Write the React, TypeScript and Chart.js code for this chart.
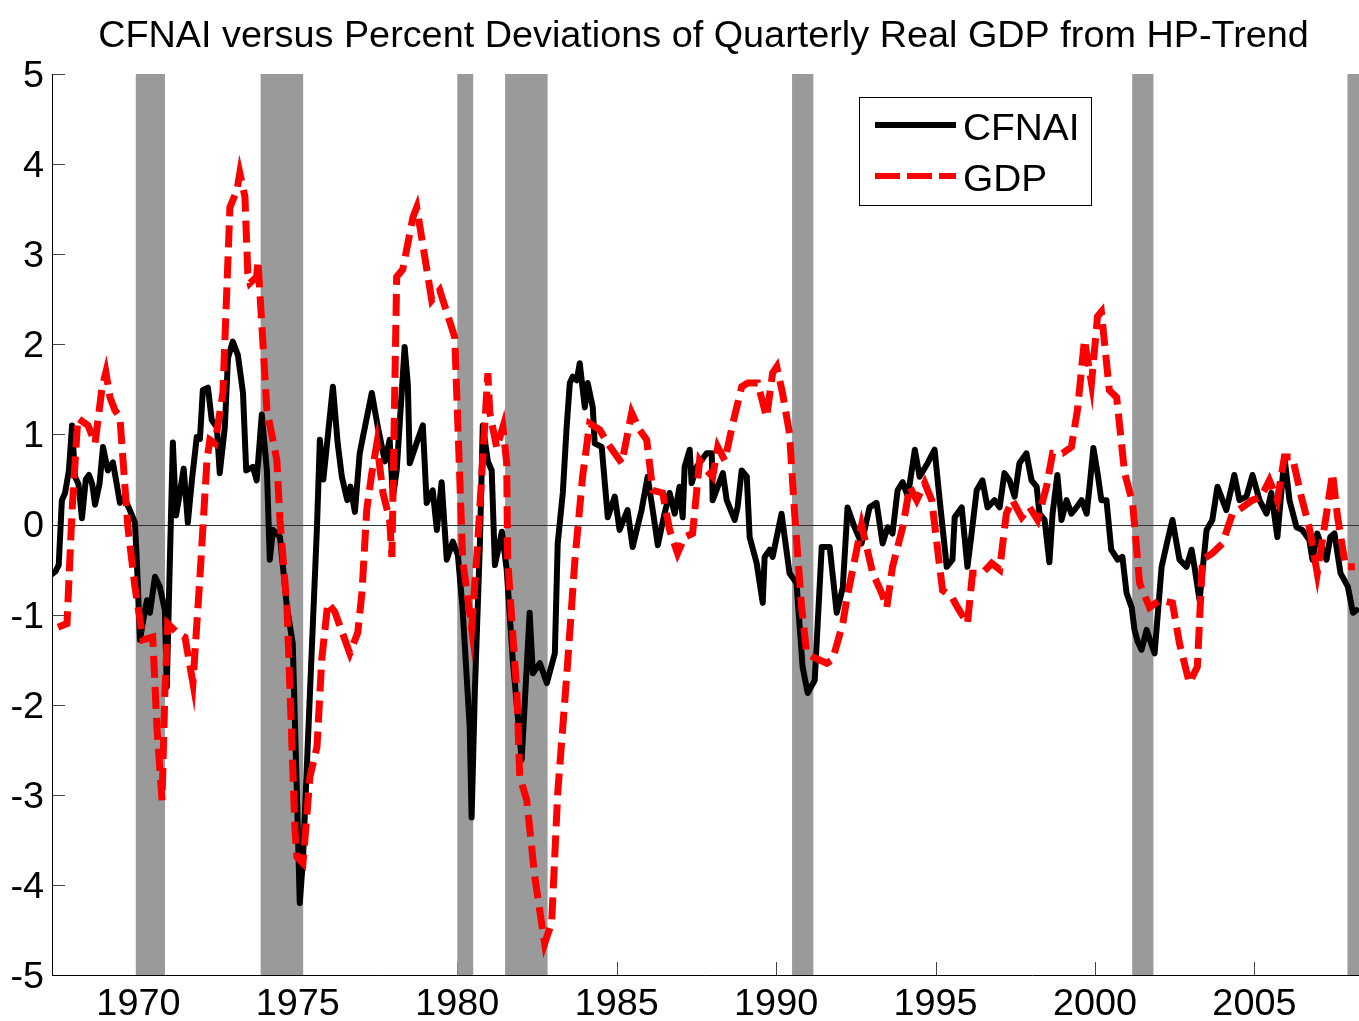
import React, { useEffect, useRef } from 'react';
import { Chart, registerables } from 'chart.js';

Chart.register(...registerables);

const titleText = 'CFNAI versus Percent Deviations of Quarterly Real GDP from HP-Trend';
const seriesNames = ['CFNAI', 'GDP'];
const xTickValues = [1970, 1975, 1980, 1985, 1990, 1995, 2000, 2005];
const yTickValues = [-5, -4, -3, -2, -1, 0, 1, 2, 3, 4, 5];

const recessionStarts = [1969.917, 1973.833, 1980.0, 1981.5, 1990.5, 2001.167, 2007.917];
const recessionEnds = [1970.833, 1975.167, 1980.5, 1982.833, 1991.167, 2001.833, 2009.0];

const cfnaiYears = [
  1967.29, 1967.40, 1967.50, 1967.60, 1967.70, 1967.82, 1967.92, 1968.01, 1968.12, 1968.23,
  1968.35, 1968.45, 1968.55, 1968.64, 1968.78, 1968.89, 1969.04, 1969.20, 1969.32, 1969.42,
  1969.55, 1969.73, 1969.89, 1969.95, 1970.05, 1970.18, 1970.27, 1970.36, 1970.52, 1970.67,
  1970.83, 1970.89, 1970.98, 1971.08, 1971.18, 1971.30, 1971.42, 1971.55, 1971.68, 1971.83,
  1971.93, 1972.02, 1972.18, 1972.30, 1972.46, 1972.55, 1972.71, 1972.81, 1972.96, 1973.12,
  1973.28, 1973.38, 1973.59, 1973.71, 1973.87, 1974.03, 1974.12, 1974.22, 1974.44, 1974.66,
  1974.84, 1974.97, 1975.06, 1975.16, 1975.38, 1975.60, 1975.69, 1975.80, 1976.10, 1976.25,
  1976.38, 1976.55, 1976.65, 1976.79, 1976.94, 1977.04, 1977.32, 1977.51, 1977.73, 1977.88,
  1977.98, 1978.10, 1978.35, 1978.45, 1978.51, 1978.76, 1978.92, 1979.04, 1979.23, 1979.36,
  1979.51, 1979.67, 1979.86, 1980.02, 1980.17, 1980.39, 1980.45, 1980.55, 1980.71, 1980.80,
  1980.96, 1981.08, 1981.18, 1981.40, 1981.55, 1981.74, 1982.02, 1982.27, 1982.37, 1982.59,
  1982.81, 1983.06, 1983.15, 1983.31, 1983.43, 1983.53, 1983.62, 1983.75, 1983.84, 1984.00,
  1984.09, 1984.25, 1984.31, 1984.53, 1984.72, 1984.94, 1985.09, 1985.34, 1985.50, 1985.78,
  1985.97, 1986.13, 1986.29, 1986.50, 1986.66, 1986.82, 1986.97, 1987.07, 1987.13, 1987.29,
  1987.35, 1987.51, 1987.82, 1987.98, 1988.01, 1988.33, 1988.45, 1988.70, 1988.79, 1988.92,
  1989.08, 1989.17, 1989.39, 1989.58, 1989.64, 1989.80, 1989.89, 1990.17, 1990.42, 1990.64,
  1990.83, 1990.99, 1991.21, 1991.43, 1991.68, 1991.90, 1992.09, 1992.24, 1992.46, 1992.68,
  1992.93, 1993.15, 1993.34, 1993.50, 1993.65, 1993.81, 1993.97, 1994.13, 1994.35, 1994.50,
  1994.75, 1994.97, 1995.13, 1995.35, 1995.53, 1995.60, 1995.82, 1996.00, 1996.13, 1996.29,
  1996.47, 1996.63, 1996.85, 1997.01, 1997.16, 1997.32, 1997.48, 1997.63, 1997.85, 1998.01,
  1998.17, 1998.26, 1998.42, 1998.57, 1998.67, 1998.82, 1998.95, 1999.11, 1999.26, 1999.42,
  1999.58, 1999.74, 1999.83, 1999.95, 2000.08, 2000.20, 2000.36, 2000.51, 2000.71, 2000.86,
  2000.99, 2001.15, 2001.24, 2001.34, 2001.46, 2001.62, 2001.87, 2002.09, 2002.28, 2002.43,
  2002.65, 2002.87, 2003.03, 2003.12, 2003.28, 2003.50, 2003.68, 2003.84, 2004.12, 2004.37,
  2004.53, 2004.75, 2004.94, 2005.16, 2005.38, 2005.53, 2005.72, 2005.94, 2006.10, 2006.32,
  2006.50, 2006.72, 2006.82, 2006.97, 2007.26, 2007.38, 2007.51, 2007.70, 2007.93, 2008.09,
  2008.20,
];
const cfnaiValues = [
  -0.55, -0.52, -0.45, 0.27, 0.35, 0.60, 1.10, 0.53, 0.45, 0.07,
  0.50, 0.55, 0.45, 0.22, 0.45, 0.86, 0.60, 0.69, 0.45, 0.24,
  0.30, 0.16, 0.02, -0.40, -1.28, -1.00, -0.84, -0.98, -0.58, -0.69,
  -0.95, -1.80, -0.50, 0.91, 0.10, 0.35, 0.62, 0.02, 0.50, 0.97,
  0.95, 1.49, 1.52, 1.16, 1.08, 0.57, 1.08, 1.85, 2.03, 1.88,
  1.46, 0.60, 0.64, 0.49, 1.22, 0.60, -0.39, -0.06, -0.14, -0.92,
  -1.32, -2.98, -4.20, -3.72, -1.87, -0.03, 0.94, 0.50, 1.53, 0.90,
  0.53, 0.27, 0.42, 0.14, 0.79, 0.97, 1.46, 1.08, 0.70, 0.94,
  0.30, 0.60, 1.97, 1.55, 0.68, 0.94, 1.10, 0.24, 0.38, -0.06,
  0.47, -0.39, -0.19, -0.34, -0.95, -2.25, -3.25, -1.87, -0.21, 1.10,
  0.70, 0.60, -0.45, -0.08, -0.50, -1.50, -2.61, -0.98, -1.65, -1.54,
  -1.76, -1.43, -0.21, 0.35, 1.08, 1.57, 1.64, 1.60, 1.79, 1.30,
  1.57, 1.30, 0.90, 0.86, 0.08, 0.31, -0.06, 0.16, -0.25, 0.16,
  0.53, 0.16, -0.23, 0.12, 0.35, 0.12, 0.42, 0.08, 0.64, 0.83,
  0.46, 0.64, 0.79, 0.79, 0.27, 0.57, 0.27, 0.05, 0.19, 0.60,
  0.53, -0.14, -0.43, -0.87, -0.36, -0.28, -0.36, 0.12, -0.54, -0.65,
  -1.58, -1.87, -1.73, -0.25, -0.25, -0.98, -0.70, 0.19, -0.03, -0.21,
  0.19, 0.24, -0.21, -0.03, -0.10, 0.38, 0.47, 0.31, 0.83, 0.53,
  0.68, 0.83, 0.27, -0.47, -0.39, 0.08, 0.19, -0.47, -0.10, 0.38,
  0.49, 0.19, 0.27, 0.19, 0.57, 0.49, 0.31, 0.68, 0.79, 0.49,
  0.42, 0.12, 0.05, -0.42, 0.12, 0.55, 0.05, 0.27, 0.12, 0.19,
  0.27, 0.12, 0.42, 0.85, 0.57, 0.27, 0.27, -0.28, -0.39, -0.36,
  -0.76, -0.92, -1.17, -1.30, -1.39, -1.17, -1.43, -0.47, -0.17, 0.05,
  -0.39, -0.47, -0.28, -0.47, -0.84, -0.06, 0.05, 0.42, 0.16, 0.55,
  0.27, 0.31, 0.55, 0.27, 0.12, 0.35, -0.14, 0.75, 0.27, -0.03,
  -0.06, -0.17, -0.39, -0.10, -0.39, -0.14, -0.10, -0.54, -0.69, -0.98,
  -0.95,
];

const gdpYears = [
  1967.48, 1967.76, 1967.92, 1968.10, 1968.42, 1968.64, 1968.86, 1968.98, 1969.11, 1969.26,
  1969.42, 1969.67, 1969.89, 1970.05, 1970.14, 1970.45, 1970.58, 1970.74, 1970.83, 1970.92,
  1971.21, 1971.46, 1971.71, 1971.93, 1972.15, 1972.24, 1972.40, 1972.65, 1972.87, 1973.09,
  1973.18, 1973.34, 1973.43, 1973.50, 1973.71, 1973.75, 1974.03, 1974.34, 1974.44, 1974.66,
  1974.91, 1974.97, 1975.16, 1975.38, 1975.60, 1975.75, 1975.94, 1976.16, 1976.63, 1976.88,
  1977.01, 1977.16, 1977.32, 1977.48, 1977.67, 1977.88, 1977.95, 1978.10, 1978.29, 1978.61,
  1978.73, 1979.20, 1979.45, 1979.92, 1980.17, 1980.45, 1980.64, 1980.96, 1981.02, 1981.24,
  1981.43, 1981.55, 1981.58, 1981.87, 1981.96, 1982.18, 1982.43, 1982.74, 1982.96, 1983.15,
  1983.43, 1983.69, 1983.93, 1984.15, 1984.47, 1984.72, 1985.16, 1985.47, 1985.72, 1985.94,
  1986.13, 1986.44, 1986.66, 1986.91, 1987.13, 1987.38, 1987.60, 1987.82, 1988.01, 1988.17,
  1988.39, 1988.64, 1988.92, 1989.11, 1989.42, 1989.70, 1989.89, 1990.02, 1990.20, 1990.42,
  1990.58, 1990.80, 1990.96, 1991.15, 1991.59, 1991.77, 1992.09, 1992.21, 1992.43, 1992.68,
  1992.84, 1993.03, 1993.31, 1993.47, 1993.65, 1993.97, 1994.19, 1994.41, 1994.66, 1994.88,
  1995.13, 1995.22, 1995.50, 1995.69, 1996.00, 1996.16, 1996.47, 1996.76, 1997.01, 1997.22,
  1997.41, 1997.70, 1997.95, 1998.20, 1998.48, 1998.67, 1998.98, 1999.26, 1999.45, 1999.67,
  1999.89, 2000.08, 2000.20, 2000.45, 2000.68, 2000.93, 2001.18, 2001.40, 2001.71, 2002.03,
  2002.43, 2002.65, 2002.96, 2003.21, 2003.37, 2003.68, 2004.00, 2004.31, 2004.62, 2004.94,
  2005.22, 2005.47, 2005.72, 2005.94, 2006.19, 2006.47, 2006.72, 2006.97, 2007.26, 2007.45,
  2007.61, 2007.86, 2008.15,
];
const gdpValues = [
  -1.14, -1.10, 0.16, 1.18, 1.10, 0.90, 1.52, 1.69, 1.41, 1.27,
  1.19, -0.03, -0.69, -1.06, -1.28, -1.25, -2.25, -3.06, -1.87, -1.10,
  -1.20, -1.25, -1.76, -0.58, 0.71, 0.94, 0.90, 1.46, 3.52, 3.71,
  3.90, 3.64, 2.79, 2.68, 2.75, 2.93, 1.27, 0.72, 0.05, -0.92,
  -3.39, -3.69, -3.76, -2.80, -2.47, -1.50, -0.87, -0.97, -1.43, -1.20,
  -0.76, 0.16, 0.57, 0.90, 0.35, 0.05, -0.36, 2.75, 2.83, 3.41,
  3.52, 2.49, 2.60, 2.08, -0.39, -1.15, -0.21, 1.68, 1.24, 0.85,
  1.08, 0.68, -0.39, -1.87, -2.80, -3.06, -3.91, -4.65, -4.42, -2.98,
  -1.69, -0.39, 0.53, 1.12, 1.05, 0.90, 0.68, 1.24, 1.05, 0.94,
  0.38, 0.35, -0.06, -0.32, -0.14, -0.10, 0.71, 0.60, 0.53, 0.86,
  0.71, 1.12, 1.53, 1.57, 1.57, 1.19, 1.68, 1.75, 1.46, 1.01,
  0.12, -0.92, -1.43, -1.47, -1.54, -1.50, -1.10, -0.84, -0.45, -0.01,
  -0.25, -0.54, -0.76, -0.92, -0.47, -0.03, 0.42, 0.27, 0.46, 0.27,
  -0.47, -0.73, -0.80, -0.92, -1.10, -0.54, -0.54, -0.43, -0.50, 0.12,
  0.27, 0.08, 0.19, 0.05, 0.42, 0.79, 0.79, 0.86, 1.27, 2.05,
  1.57, 2.31, 2.36, 1.49, 1.41, 0.57, 0.24, -0.65, -0.92, -0.84,
  -0.87, -1.32, -1.76, -1.58, -0.39, -0.32, -0.21, 0.12, 0.19, 0.27,
  0.31, 0.49, 0.27, 0.75, 0.75, 0.31, -0.03, -0.54, 0.12, 0.57,
  0.08, -0.47, -0.47,
];

const W = 1359;
const H = 1021;
const FONT = '"Liberation Sans", Arial, Helvetica, sans-serif';
const STRETCH = 1.05;

function drawText(ctx: CanvasRenderingContext2D, text: string, x: number, baseline: number, align: string, size: number) {
  ctx.save();
  ctx.font = `${size}px ${FONT}`;
  ctx.textBaseline = 'alphabetic';
  ctx.textAlign = 'left';
  const w = ctx.measureText(text).width * STRETCH;
  let left = x;
  if (align === 'center') left = x - w / 2;
  else if (align === 'right') left = x - w;
  ctx.translate(left, baseline);
  ctx.scale(STRETCH, 1);
  ctx.fillStyle = '#000';
  ctx.fillText(text, 0, 0);
  ctx.restore();
}

const decorPlugin = {
  id: 'decor',
  beforeDatasetsDraw(chart: any) {
    const ctx: CanvasRenderingContext2D = chart.ctx;
    const { left, right, top, bottom } = chart.chartArea;
    const xs = chart.scales.x;
    const ys = chart.scales.y;
    ctx.save();
    // inward ticks (under the recession bands)
    ctx.strokeStyle = '#444';
    ctx.lineWidth = 1;
    ctx.beginPath();
    yTickValues.forEach((v) => {
      const py = Math.round(ys.getPixelForValue(v)) + 0.5;
      ctx.moveTo(left, py);
      ctx.lineTo(left + 13, py);
    });
    xTickValues.forEach((v) => {
      const px = Math.round(xs.getPixelForValue(v)) + 0.5;
      ctx.moveTo(px, bottom);
      ctx.lineTo(px, bottom - 13);
    });
    ctx.stroke();
    // recession bands
    ctx.fillStyle = '#9a9a9a';
    recessionStarts.forEach((s, i) => {
      const x0 = Math.max(left, xs.getPixelForValue(s));
      const x1 = Math.min(right, xs.getPixelForValue(recessionEnds[i]));
      ctx.fillRect(x0, top, x1 - x0, bottom - top);
    });
    // zero line
    const y0 = Math.round(ys.getPixelForValue(0)) + 0.5;
    ctx.strokeStyle = '#333';
    ctx.beginPath();
    ctx.moveTo(left, y0);
    ctx.lineTo(right, y0);
    ctx.stroke();
    // axis lines
    ctx.strokeStyle = '#000';
    ctx.beginPath();
    ctx.moveTo(left + 0.5, top);
    ctx.lineTo(left + 0.5, bottom + 0.5);
    ctx.lineTo(right, bottom + 0.5);
    ctx.stroke();
    ctx.restore();
  },
  afterDraw(chart: any) {
    const ctx: CanvasRenderingContext2D = chart.ctx;
    const { left, right, bottom } = chart.chartArea;
    const xs = chart.scales.x;
    const ys = chart.scales.y;
    const size = 36;
    // title
    drawText(ctx, titleText, (left + right) / 2 - 2, 47, 'center', size);
    // y labels
    yTickValues.forEach((v) => {
      const py = ys.getPixelForValue(v);
      drawText(ctx, String(v), left - 8, py + 12.9, 'right', size);
    });
    // x labels
    xTickValues.forEach((v) => {
      const px = xs.getPixelForValue(v);
      drawText(ctx, String(v), px, bottom + 40, 'center', size);
    });
    // legend
    ctx.save();
    ctx.fillStyle = '#fff';
    ctx.fillRect(859, 97, 233, 109);
    ctx.strokeStyle = '#000';
    ctx.lineWidth = 1;
    ctx.strokeRect(859.5, 97.5, 232, 108);
    const ds = chart.data.datasets;
    const rows = [125, 176];
    ds.forEach((d: any, i: number) => {
      ctx.save();
      ctx.strokeStyle = d.borderColor;
      ctx.lineWidth = 6;
      ctx.lineCap = 'butt';
      ctx.setLineDash(d.borderDash ? [25, 7] : []);
      ctx.beginPath();
      ctx.moveTo(875, rows[i]);
      ctx.lineTo(956, rows[i]);
      ctx.stroke();
      ctx.restore();
      drawText(ctx, d.label, 963, rows[i] + 14.5, 'left', 37);
    });
    ctx.restore();
  },
};

export default function App() {
  const canvasRef = useRef<HTMLCanvasElement | null>(null);

  useEffect(() => {
    const canvas = canvasRef.current;
    if (!canvas) return;
    const chart = new Chart(canvas, {
      type: 'line',
      data: {
        datasets: [
          {
            label: seriesNames[0],
            data: cfnaiYears.map((x, i) => ({ x, y: cfnaiValues[i] })),
            borderColor: '#000000',
            borderWidth: 6,
            pointRadius: 0,
            tension: 0,
            borderJoinStyle: 'round',
            borderCapStyle: 'round',
            fill: false,
            order: 2,
          },
          {
            label: seriesNames[1],
            data: gdpYears.map((x, i) => ({ x, y: gdpValues[i] })),
            borderColor: '#ff0000',
            borderWidth: 7,
            borderDash: [22, 9],
            pointRadius: 0,
            tension: 0,
            borderCapStyle: 'butt',
            borderJoinStyle: 'miter',
            fill: false,
            order: 1,
          },
        ],
      },
      options: {
        responsive: false,
        animation: false,
        devicePixelRatio: 1,
        layout: { padding: { left: 52, top: 74, right: 0, bottom: 46 } },
        scales: {
          x: { type: 'linear', min: 1967.29, max: 2008.28, display: false },
          y: { type: 'linear', min: -5, max: 5, display: false },
        },
        plugins: {
          legend: { display: false },
          title: { display: false },
          tooltip: { enabled: false },
        },
      },
      plugins: [decorPlugin],
    } as any);
    return () => chart.destroy();
  }, []);

  return (
    <div style={{ position: 'absolute', left: 0, top: 0, width: W, height: H, background: '#fff' }}>
      <canvas ref={canvasRef} width={W} height={H} style={{ display: 'block', width: W, height: H }} />
    </div>
  );
}
